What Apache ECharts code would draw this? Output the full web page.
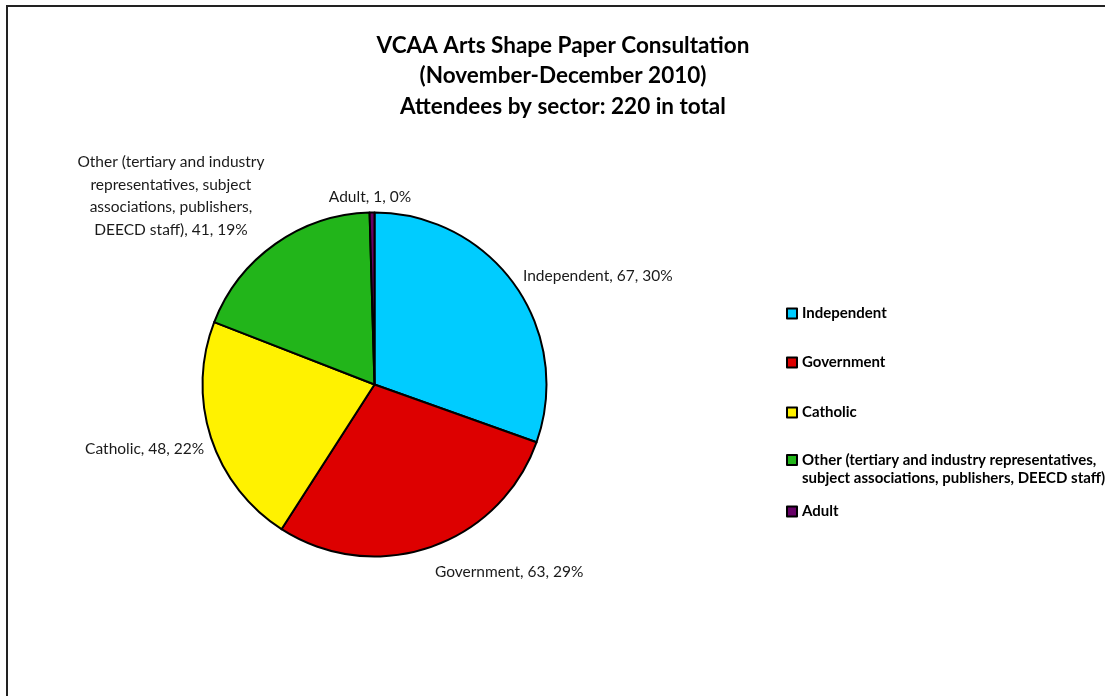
<!DOCTYPE html>
<html><head><meta charset="utf-8">
<script src="https://cdn.jsdelivr.net/npm/echarts@6/dist/echarts.min.js"></script>
<style>html,body{margin:0;padding:0;background:#fff}#c{width:1105px;height:696px}</style>
</head><body><div id="c"></div>
<script>
var categories = ['Independent', 'Government', 'Catholic', 'Other (tertiary and industry representatives, subject associations, publishers, DEECD staff)', 'Adult'];
var values = [67, 63, 48, 41, 1];
var labelNames = ['Independent', 'Government', 'Catholic', 'Other (tertiary and industry\nrepresentatives, subject\nassociations, publishers,\nDEECD staff)', 'Adult'];
var legendNames = ['Independent', 'Government', 'Catholic', '\nOther (tertiary and industry representatives,\nsubject associations, publishers, DEECD staff)', 'Adult'];
var colors = ['#00CCFF', '#DD0000', '#FFF200', '#22B51A', '#660066'];
var titleLines = ['VCAA Arts Shape Paper Consultation', '(November-December 2010)', 'Attendees by sector: 220 in total'];

var total = values.reduce(function(a,b){return a+b;},0);
var FONT = 'Lato, "Open Sans", sans-serif';
var legendTops = [299.5, 348.5, 398.5, 428, 497.5];
var labelAdj = [
  {dy: -6, dx: -2},
  {dy: 19, dx: -2},
  {dy: 9, dx: 4},
  {dy: -43, align: 'center', dx: -96},
  {dy: -10, align: 'center', dx: 3}
];

var chart = echarts.init(document.getElementById('c'));
var legends = categories.map(function(n, i){
  return {
    orient: 'vertical', left: 781, top: legendTops[i], data: [n],
    icon: 'rect', itemWidth: 10, itemHeight: 10, itemGap: 0,
    selectedMode: false,
    formatter: function(){ return legendNames[i]; },
    textStyle: {fontFamily: FONT, fontSize: 15, fontWeight: 'bold', color: '#000', lineHeight: 18}
  };
});
chart.setOption({
  animation: false,
  title: {
    text: titleLines.join('\n'), left: 558, textAlign: 'center', top: 25,
    textStyle: {fontFamily: FONT, fontSize: 22.5, fontWeight: 'bold', color: '#000', lineHeight: 30.5}
  },
  graphic: [{type: 'rect', shape: {x: 7, y: 6, width: 1200, height: 800}, style: {fill: 'none', stroke: '#222', lineWidth: 2}, silent: true}],
  legend: legends,
  series: [{
    type: 'pie', center: [374.5, 384.5], radius: 172, startAngle: 90, clockwise: true,
    avoidLabelOverlap: false,
    data: categories.map(function(n, i){ return {name: n, value: values[i], itemStyle: {color: colors[i]}}; }),
    itemStyle: {borderColor: '#000', borderWidth: 2},
    label: {
      show: true, position: 'outside', fontFamily: FONT, fontSize: 15.5, color: '#1a1a1a', lineHeight: 22.7, align: 'center',
      formatter: function(p){ return labelNames[p.dataIndex] + ', ' + p.value + ', ' + Math.round(p.value / total * 100) + '%'; }
    },
    labelLine: {show: false, length: 6, length2: 0},
    labelLayout: function(p){ return labelAdj[p.dataIndex]; },
    emphasis: {disabled: true}
  }]
});
</script></body></html>
